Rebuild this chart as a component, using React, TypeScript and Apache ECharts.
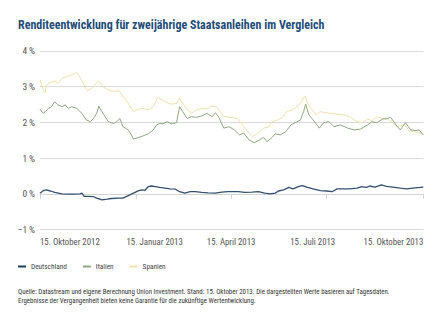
import React, { useEffect, useRef } from "react";
import * as echarts from "echarts";

// [day offset from 15. Oktober 2012, yield in %]
const deutschland: [number, number][] = [
  [0, 0.02], [3, 0.09], [6, 0.11], [10, 0.08], [14, 0.04], [21, 0.0], [27, -0.01], [33, -0.01],
  [38, 0.0], [40, 0.02], [42, -0.07], [46, -0.07], [51, -0.08], [54, -0.12], [59, -0.17], [64, -0.15],
  [68, -0.13], [75, -0.12], [79, -0.12], [84, -0.05], [89, 0.02], [94, 0.09], [97, 0.11], [100, 0.1],
  [103, 0.2], [106, 0.22], [110, 0.2], [114, 0.18], [119, 0.16], [124, 0.14], [129, 0.13], [133, 0.06],
  [138, 0.02], [143, 0.06], [148, 0.06], [154, 0.04], [160, 0.03], [167, 0.02], [173, 0.05], [179, 0.06],
  [183, 0.06], [189, 0.06], [195, 0.04], [202, 0.05], [208, 0.06], [214, 0.02], [219, 0.0], [224, 0.02],
  [227, 0.08], [232, 0.11], [237, 0.18], [241, 0.14], [246, 0.2], [250, 0.23], [254, 0.19], [260, 0.14],
  [267, 0.09], [273, 0.08], [278, 0.06], [283, 0.14], [289, 0.14], [295, 0.14], [302, 0.16], [306, 0.2],
  [311, 0.18], [314, 0.22], [319, 0.19], [325, 0.25], [330, 0.21], [336, 0.19], [343, 0.16], [349, 0.14],
  [355, 0.16], [362, 0.18], [365, 0.19],
];

const italien: [number, number][] = [
  [0, 2.37], [3, 2.25], [5, 2.3], [8, 2.39], [11, 2.44], [14, 2.58], [17, 2.49], [21, 2.44],
  [24, 2.49], [27, 2.39], [30, 2.44], [35, 2.39], [40, 2.25], [44, 2.07], [48, 2.02], [51, 2.11],
  [54, 2.25], [56, 2.46], [59, 2.3], [62, 2.16], [65, 2.02], [70, 1.97], [73, 2.02], [76, 2.11],
  [79, 1.88], [84, 1.79], [87, 1.65], [89, 1.53], [94, 1.58], [98, 1.62], [103, 1.68], [108, 1.79],
  [111, 1.93], [114, 1.97], [117, 1.96], [121, 2.02], [125, 1.96], [130, 1.99], [133, 2.44], [136, 2.3],
  [140, 2.11], [144, 2.16], [149, 2.14], [154, 2.18], [159, 2.25], [164, 2.16], [167, 2.27], [170, 2.16],
  [175, 1.84], [180, 1.88], [185, 1.79], [190, 1.65], [194, 1.7], [199, 1.51], [204, 1.43], [209, 1.51],
  [213, 1.58], [216, 1.46], [221, 1.58], [224, 1.68], [229, 1.65], [234, 1.74], [239, 1.93], [243, 1.99],
  [248, 2.07], [251, 2.3], [253, 2.51], [256, 2.21], [260, 2.07], [266, 1.84], [270, 1.99], [275, 2.02],
  [280, 1.88], [286, 1.93], [293, 1.84], [299, 1.79], [305, 1.81], [312, 1.93], [316, 2.02], [321, 1.99],
  [326, 2.09], [331, 2.11], [334, 2.14], [339, 1.93], [343, 1.79], [348, 1.99], [353, 1.79], [358, 1.77],
  [361, 1.79], [365, 1.65],
];

const spanien: [number, number][] = [
  [0, 3.2], [3, 2.91], [5, 2.83], [6, 3.04], [10, 3.11], [14, 3.16], [17, 3.09], [21, 3.23],
  [25, 3.28], [30, 3.32], [35, 3.4], [40, 3.16], [45, 2.89], [49, 2.95], [52, 3.04], [56, 3.16],
  [60, 3.0], [65, 2.91], [70, 2.86], [75, 2.89], [78, 2.77], [83, 2.58], [87, 2.39], [89, 2.3],
  [94, 2.37], [98, 2.39], [103, 2.35], [108, 2.44], [112, 2.7], [116, 2.63], [121, 2.55], [125, 2.51],
  [130, 2.53], [133, 2.67], [136, 2.53], [140, 2.37], [144, 2.25], [149, 2.35], [154, 2.39], [159, 2.37],
  [163, 2.46], [168, 2.44], [173, 2.25], [175, 2.16], [182, 2.14], [188, 2.11], [194, 1.88], [199, 1.7],
  [202, 1.6], [207, 1.68], [213, 1.84], [218, 1.88], [221, 2.02], [226, 2.07], [231, 2.14], [235, 2.3],
  [240, 2.35], [245, 2.44], [249, 2.58], [252, 2.74], [255, 2.53], [258, 2.39], [263, 2.21], [267, 2.3],
  [272, 2.27], [277, 2.25], [283, 2.23], [290, 2.21], [296, 2.14], [302, 2.02], [307, 1.99], [312, 2.09],
  [316, 2.05], [321, 2.16], [326, 2.11], [331, 2.09], [335, 2.02], [340, 1.88], [347, 1.93], [351, 1.79],
  [356, 1.74], [361, 1.71], [365, 1.65],
];

const TICK_DAYS = [0, 92, 182, 273, 365];
const TICK_LABELS = ["15. Oktober 2012", "15. Januar 2013", "15. April 2013", "15. Juli 2013", "15. Oktober 2013"];
const SERIES_NAMES = ["Deutschland", "Italien", "Spanien"];
const TITLE = "Renditeentwicklung für zweijährige Staatsanleihen im Vergleich";
const FOOTNOTE = [
  "Quelle: Datastream und eigene Berechnung Union Investment. Stand: 15. Oktober 2013. Die dargestellten Werte basieren auf Tagesdaten.",
  "Ergebnisse der Vergangenheit bieten keine Garantie für die zukünftige Wertentwicklung.",
];

const FONT = "'Roboto Condensed', 'Open Sans Condensed', Roboto, sans-serif";

export default function App() {
  const ref = useRef<HTMLDivElement>(null);
  useEffect(() => {
    if (!ref.current) return;
    const chart = echarts.init(ref.current, undefined, { renderer: "svg" });
    const pads: Record<number, number[]> = { 1: [0, 0, 0, 36], 3: [0, 28, 0, 0] };
    const rich: Record<string, any> = {};
    TICK_LABELS.forEach((_, i) => {
      rich["l" + i] = { fontSize: 8.8, color: "#555", fontFamily: FONT, padding: pads[i] || [0, 0, 0, 0] };
    });
    chart.setOption({
      animation: false,
      backgroundColor: "#fff",
      title: {
        text: TITLE,
        left: 13,
        top: 14,
        textStyle: { fontFamily: FONT, fontSize: 12, fontWeight: "bold", color: "#1e4d78" },
      },
      legend: {
        left: 13,
        top: 258,
        itemWidth: 8,
        itemHeight: 2,
        itemGap: 16,
        icon: "rect",
        data: SERIES_NAMES,
        textStyle: { fontFamily: FONT, fontSize: 7.3, color: "#444" },
      },
      grid: { left: 40, right: 24.7, top: 50.9, bottom: 97.4, containLabel: false },
      xAxis: {
        type: "value",
        min: 0,
        max: 365,
        splitLine: { show: false },
        axisLine: { show: true, lineStyle: { color: "#d4d4d4", width: 1 } },
        axisTick: { show: true, length: 5, lineStyle: { color: "#d4d4d4" }, customValues: TICK_DAYS },
        axisLabel: {
          customValues: TICK_DAYS,
          margin: 8,
          fontSize: 8.8,
          color: "#555",
          fontFamily: FONT,
          alignMinLabel: "left",
          alignMaxLabel: "right",
          showMinLabel: true,
          showMaxLabel: true,
          formatter: (val: number) => {
            const i = TICK_DAYS.indexOf(val);
            return i >= 0 ? `{l${i}|${TICK_LABELS[i]}}` : "";
          },
          rich,
        },
      },
      yAxis: {
        type: "value",
        min: -1,
        max: 4,
        interval: 1,
        axisLine: { show: false },
        axisTick: { show: false },
        splitLine: { lineStyle: { color: "#dadada", width: 1 } },
        axisLabel: {
          margin: 5,
          fontSize: 9.5,
          color: "#555",
          fontFamily: FONT,
          padding: [0, 0, 4, 0],
          formatter: (v: number) => (v < 0 ? "\u2212" + Math.abs(v) : String(v)) + "\u2009%",
        },
      },
      series: [
        { name: SERIES_NAMES[2], type: "line", data: spanien, showSymbol: false, lineStyle: { color: "#f0dfab", width: 1 }, itemStyle: { color: "#f0dfab" }, z: 1 },
        { name: SERIES_NAMES[1], type: "line", data: italien, showSymbol: false, lineStyle: { color: "#8fa882", width: 1 }, itemStyle: { color: "#8fa882" }, z: 2 },
        { name: SERIES_NAMES[0], type: "line", data: deutschland, showSymbol: false, lineStyle: { color: "#34506f", width: 1.3 }, itemStyle: { color: "#1f3d5c" }, z: 3 },
      ],
      graphic: [
        {
          type: "text",
          left: 18,
          top: 287,
          style: {
            text: FOOTNOTE.join("\n"),
            fontFamily: FONT,
            fontSize: 6.9,
            lineHeight: 9.3,
            fill: "#333",
          },
        },
      ],
    });
    return () => chart.dispose();
  }, []);
  return <div ref={ref} style={{ width: 448, height: 327, position: "absolute", left: 0, top: 0 }} />;
}
